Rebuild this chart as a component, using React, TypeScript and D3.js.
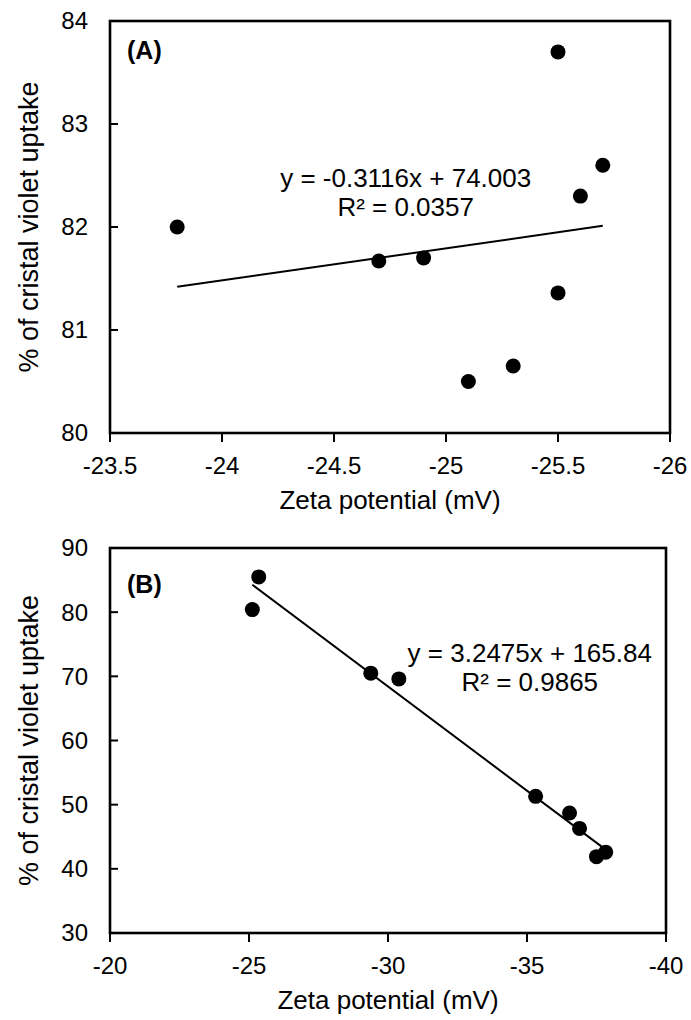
import React from "react";
import * as d3 from "d3";

const zetaA = [-23.8, -24.7, -24.9, -25.1, -25.3, -25.5, -25.5, -25.6, -25.7];
const uptakeA = [82.0, 81.67, 81.7, 80.5, 80.65, 83.7, 81.36, 82.3, 82.6];
const zetaB = [-25.12, -25.35, -29.38, -30.39, -35.31, -36.53, -36.89, -37.5, -37.83];
const uptakeB = [80.4, 85.5, 70.5, 69.6, 51.3, 48.7, 46.3, 41.9, 42.6];

const fitA = { slope: -0.3116, intercept: 74.003, eq: "y = -0.3116x + 74.003", r2: "R² = 0.0357", lx: -24.82, ly: 82.477 };
const fitB = { slope: 3.2475, intercept: 165.84, eq: "y = 3.2475x + 165.84", r2: "R² = 0.9865", lx: -35.1, ly: 73.6 };

const xTicksA = [-23.5, -24, -24.5, -25, -25.5, -26];
const yTicksA = [80, 81, 82, 83, 84];
const xTicksB = [-20, -25, -30, -35, -40];
const yTicksB = [30, 40, 50, 60, 70, 80, 90];

const FONT = "'Liberation Sans', Arial, Helvetica, sans-serif";

type PanelProps = {
  xs: number[];
  ys: number[];
  fit: typeof fitA;
  xTicks: number[];
  yTicks: number[];
  box: { left: number; right: number; top: number; bottom: number };
  label: string;
  labelDy: number;
};

function Panel({ xs, ys, fit, xTicks, yTicks, box, label, labelDy }: PanelProps) {
  const x = d3.scaleLinear().domain([xTicks[0], xTicks[xTicks.length - 1]]).range([box.left, box.right]);
  const y = d3.scaleLinear().domain([yTicks[0], yTicks[yTicks.length - 1]]).range([box.bottom, box.top]);
  const ext = d3.extent(xs) as [number, number];
  const lineData = ext.map((v) => [v, fit.slope * v + fit.intercept] as [number, number]);
  const line = d3.line<[number, number]>().x((d) => x(d[0])).y((d) => y(d[1]));
  const tickFs = 24;
  const fs = 26;
  const cy = (box.top + box.bottom) / 2;
  const cx = (box.left + box.right) / 2;
  return (
    <g fontFamily={FONT}>
      <rect x={box.left} y={box.top} width={box.right - box.left} height={box.bottom - box.top} fill="none" stroke="#000" strokeWidth={2.6} />
      {yTicks.map((t) => (
        <g key={"y" + t}>
          <line x1={box.left} x2={box.left + 8} y1={y(t)} y2={y(t)} stroke="#000" strokeWidth={2} />
          <text x={box.left - 22} y={y(t)} dy="0.35em" textAnchor="end" fontSize={tickFs}>{t}</text>
        </g>
      ))}
      {xTicks.map((t) => (
        <g key={"x" + t}>
          <line x1={x(t)} x2={x(t)} y1={box.bottom} y2={box.bottom + 9} stroke="#000" strokeWidth={2} />
          <text x={x(t)} y={box.bottom + 33} dy="0.35em" textAnchor="middle" fontSize={tickFs}>{t}</text>
        </g>
      ))}
      <path d={line(lineData) || ""} stroke="#000" strokeWidth={2} fill="none" />
      {xs.map((v, i) => (
        <circle key={i} cx={x(v)} cy={y(ys[i])} r={7.5} fill="#000" />
      ))}
      <text x={x(fit.lx)} y={y(fit.ly)} textAnchor="middle" fontSize={fs}>
        <tspan x={x(fit.lx)} dy="0.35em">{fit.eq}</tspan>
        <tspan x={x(fit.lx)} dy="1.12em">{fit.r2}</tspan>
      </text>
      <text x={box.left + 17} y={box.top + labelDy} dy="0.35em" fontSize={25} fontWeight="bold">{label}</text>
      <text x={cx} y={box.bottom + 67} dy="0.35em" textAnchor="middle" fontSize={fs}>Zeta potential (mV)</text>
      <text transform={`translate(29,${cy}) rotate(-90)`} textAnchor="middle" dy="0.35em" fontSize={27}>% of cristal violet uptake</text>
    </g>
  );
}

export default function App() {
  return (
    <svg width={691} height={1020} style={{ position: "absolute", left: 0, top: 0, background: "#fff" }}>
      <rect width={691} height={1020} fill="#fff" />
      <Panel xs={zetaA} ys={uptakeA} fit={fitA} xTicks={xTicksA} yTicks={yTicksA}
        box={{ left: 110, right: 670, top: 21, bottom: 433 }} label="(A)" labelDy={29} />
      <Panel xs={zetaB} ys={uptakeB} fit={fitB} xTicks={xTicksB} yTicks={yTicksB}
        box={{ left: 110, right: 666, top: 548, bottom: 933 }} label="(B)" labelDy={36} />
    </svg>
  );
}
